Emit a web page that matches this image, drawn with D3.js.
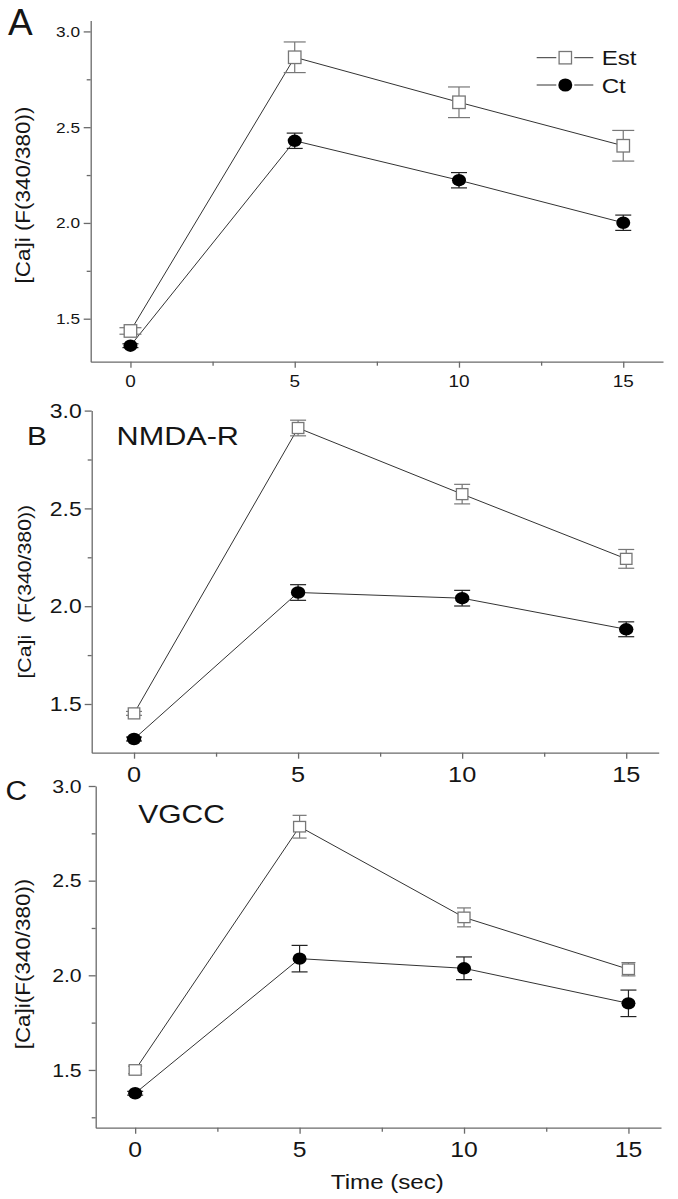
<!DOCTYPE html>
<html>
<head>
<meta charset="utf-8">
<script src="https://cdn.jsdelivr.net/npm/d3@7"></script>
<style>
  html, body { margin: 0; padding: 0; background: #fff; }
  svg { display: block; }
  text { font-family: "Liberation Sans", Arial, Helvetica, sans-serif; fill: #151515; white-space: pre; }
</style>
</head>
<body>
<svg id="chart" width="678" height="1199"></svg>
<script>
// ---------------- DATA ----------------
const times = [0, 5, 10, 15];
const xTickValues = [0, 5, 10, 15];
const xMinorValues = [2.5, 7.5, 12.5];
const yTickValues = [1.5, 2.0, 2.5, 3.0];
const yMinorValues = [1.25, 1.75, 2.25, 2.75];
const seriesNames = ["Est", "Ct"];

const panelLetters = ["A", "B", "C"];
const panelTitles = ["", "NMDA-R", "VGCC"];
const yLabels = ["[Ca]i (F(340/380))", "[Ca]i  (F(340/380))", "[Ca]i(F(340/380))"];
const xLabel = "Time (sec)";

// Panel A
const estA = [1.436, 2.865, 2.630, 2.403];
const estAErr = [0.017, 0.080, 0.080, 0.080];
const ctA = [1.359, 2.429, 2.223, 2.001];
const ctAErr = [0.010, 0.040, 0.040, 0.040];
// Panel B (NMDA-R)
const estB = [1.452, 2.911, 2.573, 2.242];
const estBErr = [0.010, 0.040, 0.050, 0.048];
const ctB = [1.321, 2.070, 2.041, 1.882];
const ctBErr = [0.010, 0.040, 0.040, 0.038];
// Panel C (VGCC)
const estC = [1.500, 2.785, 2.306, 2.032];
const estCErr = [0.020, 0.060, 0.050, 0.035];
const ctC = [1.377, 2.088, 2.037, 1.852];
const ctCErr = [0.010, 0.070, 0.060, 0.070];

// ---------------- LAYOUT ----------------
const layout = [
  { xr: [90.7, 663], xd: [-1.21, 16.21], yr: [361.7, 20.5], yd: [1.2755, 3.057],
    yTickFont: 15, xTickFont: 16.5, yLabelOff: 10.7, xLabelOff: 25,
    letter: { x: 8, y: 35, size: 37, sx: 1.0 },
    title: null, yLab: { x: 23, y: 195, size: 19.5 },
    sq: [12.5, 12.5], el: [7, 6.2], cap: [22, 16] },
  { xr: [91.7, 658.7], xd: [-1.29, 15.99], yr: [752.7, 410.6], yd: [1.251, 3.0],
    yTickFont: 20, xTickFont: 22, yLabelOff: 10, xLabelOff: 29,
    letter: { x: 27, y: 445, size: 26, sx: 1.15 },
    title: { x: 116.6, y: 445, size: 25.5, sx: 1.2 }, yLab: { x: 25, y: 591.7, size: 18.5 },
    sq: [11.5, 11], el: [7.2, 6.2], cap: [16, 16] },
  { xr: [95.7, 661], xd: [-1.2, 15.99], yr: [1127.7, 786], yd: [1.195, 3.0],
    yTickFont: 18.5, xTickFont: 21.5, yLabelOff: 14, xLabelOff: 29,
    letter: { x: 5.5, y: 800, size: 28, sx: 1.07 },
    title: { x: 138.2, y: 823, size: 25, sx: 1.2 }, yLab: { x: 23, y: 964, size: 19.5 },
    sq: [12, 10.5], el: [7, 6.2], cap: [14, 16] }
];

const panelData = [
  { est: estA, estErr: estAErr, ct: ctA, ctErr: ctAErr },
  { est: estB, estErr: estBErr, ct: ctB, ctErr: ctBErr },
  { est: estC, estErr: estCErr, ct: ctC, ctErr: ctCErr }
];

const SX = 1.15;           // horizontal stretch of lettering
const axisColor = "#6a6a6a";
const lineColor = "#333";
const estColor = "#777";
const ctColor = "#000";

const svg = d3.select("#chart");

function txt(g, s, x, y, size, opts = {}) {
  const sx = opts.sx ?? SX;
  const rot = opts.rotate ?? 0;
  return g.append("text")
    .attr("transform", `translate(${x},${y}) rotate(${rot}) scale(${sx},1)`)
    .attr("text-anchor", opts.anchor || "start")
    .attr("font-size", size)
    .attr("dominant-baseline", opts.baseline || "alphabetic")
    .text(s);
}

layout.forEach((L, i) => {
  const D = panelData[i];
  const g = svg.append("g");
  const x = d3.scaleLinear().domain(L.xd).range(L.xr);
  const y = d3.scaleLinear().domain(L.yd).range(L.yr);
  const yBottom = L.yr[0], xLeft = L.xr[0];

  // ---- axes ----
  g.append("g").attr("transform", `translate(${xLeft},0)`)
    .call(d3.axisLeft(y).tickValues(yTickValues).tickSize(7).tickSizeOuter(0).tickFormat(""));
  g.append("g").attr("transform", `translate(${xLeft},0)`)
    .call(d3.axisLeft(y).tickValues(yMinorValues.filter(v => v > L.yd[0] + 0.01)).tickSize(4).tickSizeOuter(0).tickFormat(""))
    .select(".domain").remove();
  g.append("g").attr("transform", `translate(0,${yBottom})`)
    .call(d3.axisBottom(x).tickValues(xTickValues).tickSize(6).tickSizeOuter(0).tickFormat(""));
  g.append("g").attr("transform", `translate(0,${yBottom})`)
    .call(d3.axisBottom(x).tickValues(xMinorValues).tickSize(4).tickSizeOuter(0).tickFormat(""))
    .select(".domain").remove();
  g.selectAll(".domain, .tick line").attr("stroke", axisColor).attr("stroke-width", 1.3);

  // tick labels
  yTickValues.forEach(v => {
    txt(g, d3.format(".1f")(v), xLeft - L.yLabelOff, y(v) + L.yTickFont * 0.36, L.yTickFont, { anchor: "end" });
  });
  xTickValues.forEach(v => {
    txt(g, String(v), x(v), yBottom + L.xLabelOff, L.xTickFont, { anchor: "middle" });
  });

  // y label
  txt(g, yLabels[i], L.yLab.x, L.yLab.y, L.yLab.size, { anchor: "middle", rotate: -90, baseline: "central" });

  // panel letter & title
  txt(g, panelLetters[i], L.letter.x, L.letter.y, L.letter.size, { sx: L.letter.sx });
  if (L.title) txt(g, panelTitles[i], L.title.x, L.title.y, L.title.size, { sx: L.title.sx });

  // ---- data ----
  const line = d3.line().x((d, j) => x(times[j])).y(d => y(d));
  [D.est, D.ct].forEach(vals => {
    g.append("path").datum(vals).attr("d", line)
      .attr("fill", "none").attr("stroke", lineColor).attr("stroke-width", 1);
  });

  function errorBars(vals, errs, color, capW) {
    const eb = g.append("g").attr("stroke", color).attr("stroke-width", 1.2);
    vals.forEach((v, j) => {
      const cx = x(times[j]);
      eb.append("line").attr("x1", cx).attr("x2", cx).attr("y1", y(v - errs[j])).attr("y2", y(v + errs[j]));
      [v - errs[j], v + errs[j]].forEach(e => {
        eb.append("line").attr("x1", cx - capW / 2).attr("x2", cx + capW / 2).attr("y1", y(e)).attr("y2", y(e));
      });
    });
  }
  errorBars(D.est, D.estErr, estColor, L.cap[0]);
  errorBars(D.ct, D.ctErr, "#222", L.cap[1]);

  g.selectAll(null).data(D.est).enter().append("rect")
    .attr("x", (d, j) => x(times[j]) - L.sq[0] / 2)
    .attr("y", d => y(d) - L.sq[1] / 2)
    .attr("width", L.sq[0]).attr("height", L.sq[1])
    .attr("fill", "#fff").attr("stroke", estColor).attr("stroke-width", 1.3);
  g.selectAll(null).data(D.ct).enter().append("ellipse")
    .attr("cx", (d, j) => x(times[j]))
    .attr("cy", d => y(d))
    .attr("rx", L.el[0]).attr("ry", L.el[1])
    .attr("fill", ctColor);

  // ---- legend (panel A only) ----
  if (i === 0) {
    const lg = svg.append("g");
    const rows = [57.7, 85];
    const mx = 565.3;
    rows.forEach((ry, r) => {
      [[536.7, mx - 9], [mx + 9, 593.3]].forEach(([a, b]) => {
        lg.append("line").attr("x1", a).attr("x2", b).attr("y1", ry).attr("y2", ry)
          .attr("stroke", lineColor).attr("stroke-width", 1);
      });
      if (r === 0) {
        lg.append("rect").attr("x", mx - 6.2).attr("y", ry - 6.2).attr("width", 12.4).attr("height", 12.4)
          .attr("fill", "#fff").attr("stroke", estColor).attr("stroke-width", 1.3);
      } else {
        lg.append("ellipse").attr("cx", mx).attr("cy", ry).attr("rx", 7).attr("ry", 6.6).attr("fill", ctColor);
      }
      txt(lg, seriesNames[r], 601.7, ry + 7.6, 21);
    });
  }

  if (i === 2) {
    txt(g, xLabel, (L.xr[0] + L.xr[1]) / 2 + 9, 1188.5, 21, { anchor: "middle" });
  }
});
</script>
</body>
</html>
